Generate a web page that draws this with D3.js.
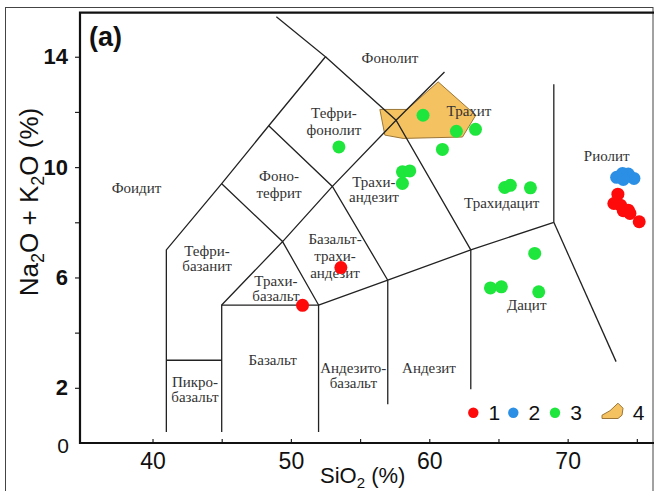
<!DOCTYPE html>
<html>
<head>
<meta charset="utf-8">
<script src="https://cdn.jsdelivr.net/npm/d3@7"></script>
<style>
  body { margin: 0; background: #fff; }
  svg { display: block; }
  .area-label { font-family: "Liberation Serif", "Times New Roman", serif; font-size: 15px; fill: #333; }
</style>
</head>
<body>
<div class="chart"></div>
<script>
// sample groups: [SiO2, Na2O + K2O]
const group1 = [[50.84, 4.99], [53.61, 6.36], [73.63, 9.02], [73.34, 8.68], [73.82, 8.62],
  [74.02, 8.42], [74.38, 8.44], [74.5, 8.32], [75.17, 8.02]];
const group2 = [[73.54, 9.63], [73.97, 9.77], [74.38, 9.75], [74.79, 9.59], [74.02, 9.55]];
const group3 = [[59.55, 11.88], [61.96, 11.3], [63.34, 11.37], [60.95, 10.64], [53.47, 10.73],
  [58.06, 9.83], [58.59, 9.86], [58.06, 9.41], [65.45, 9.26], [65.86, 9.34], [67.31, 9.25],
  [67.62, 6.87], [64.42, 5.62], [65.21, 5.66], [67.91, 5.48]];
// field 4 outline
const field4 = [[56.43, 12.09], [58.4, 12.09], [60.64, 13.09], [63.36, 11.88], [62.4, 11.09],
  [58.11, 11.04], [56.79, 11.16]];

// TAS boundaries
const boundaries = [
  [[41, 0.4], [41, 7], [45, 9.4], [48.4, 11.5], [52.5, 14], [48.95, 15.45]],
  [[45, 0.4], [45, 5], [52, 5], [52, 0.4]],
  [[41, 3], [45, 3]],
  [[45, 5], [49.4, 7.3], [52, 5]],
  [[52, 5], [57, 5.9], [63, 7], [69, 8]],
  [[57, 5.9], [57, 1.4]],
  [[63, 7], [63, 1.95]],
  [[69, 8], [69, 13]],
  [[69, 8], [73.5, 2.95]],
  [[45, 9.4], [49.4, 7.3], [53, 9.3], [57.6, 11.7], [61.1, 13.45]],
  [[48.4, 11.5], [53, 9.3], [57, 5.9]],
  [[52.5, 14], [57.6, 11.7], [63, 7]]
];

// rock names: anchor [SiO2, alkali], lines, line step px
const areaLabels = [
  { at: [38.84, 9.06], lines: ['Фоидит'], step: 0 },
  { at: [49.14, 9.5], lines: ['Фоно-', 'тефрит'], step: 17 },
  { at: [53.11, 11.77], lines: ['Тефри-', 'фонолит'], step: 17 },
  { at: [57.16, 13.77], lines: ['Фонолит'], step: 0 },
  { at: [62.87, 11.85], lines: ['Трахит'], step: 0 },
  { at: [56.0, 9.28], lines: ['Трахи-', 'андезит'], step: 15 },
  { at: [65.23, 8.51], lines: ['Трахидацит'], step: 0 },
  { at: [72.82, 10.22], lines: ['Риолит'], step: 0 },
  { at: [53.19, 7.2], lines: ['Базальт-', 'трахи-', 'андезит'], step: 17 },
  { at: [43.94, 6.78], lines: ['Тефри-', 'базанит'], step: 15.5 },
  { at: [48.92, 5.69], lines: ['Трахи-', 'базальт'], step: 15 },
  { at: [48.69, 2.82], lines: ['Базальт'], step: 0 },
  { at: [43.07, 2.03], lines: ['Пикро-', 'базальт'], step: 15.5 },
  { at: [54.51, 2.55], lines: ['Андезито-', 'базальт'], step: 15.5 },
  { at: [59.98, 2.53], lines: ['Андезит'], step: 0 },
  { at: [67.04, 4.82], lines: ['Дацит'], step: 0 }
];

const xTicks = [40, 45, 50, 55, 60, 65, 70, 75];
const yTicks = [2, 4, 6, 8, 10, 12, 14];
const legendKeys = ['1', '2', '3', '4'];

const width = 654;
const height = 491;
const colors = { g1: '#ff0a0a', g2: '#2b8fe6', g3: '#1ee63c', field: '#f5c262' };

const svg = d3.select('.chart')
  .append('svg')
    .attr('width', width)
    .attr('height', height);

const x = d3.scaleLinear().domain([34.76, 76.24]).range([80, 654]);
const y = d3.scaleLinear().domain([0, 15.6]).range([443, 12.6]);

// outer border
svg.append('rect')
  .attr('x', 5.5).attr('y', 7.5)
  .attr('width', 647.5).attr('height', 490)
  .attr('fill', 'none')
  .attr('stroke', '#444')
  .attr('stroke-width', 1);

const line = d3.line().x(d => x(d[0])).y(d => y(d[1]));

svg.append('path')
  .attr('d', line(field4) + 'Z')
  .attr('fill', colors.field)
  .attr('stroke', '#9c7636')
  .attr('stroke-width', 1);

svg.append('g')
  .selectAll('path')
  .data(boundaries)
  .join('path')
    .attr('d', line)
    .attr('fill', 'none')
    .attr('stroke', '#222')
    .attr('stroke-width', 1.3);

// axes
const xAxis = svg.append('g')
  .attr('transform', `translate(0, ${y(0)})`)
  .call(d3.axisBottom(x).tickValues(xTicks).tickSize(-4).tickPadding(10)
    .tickFormat(d => d % 10 === 0 ? d : ''));
xAxis.select('.domain').remove();
xAxis.selectAll('line').attr('stroke', '#222').attr('stroke-width', 1.2);
xAxis.selectAll('text')
  .attr('font-family', 'Liberation Sans, Arial, sans-serif')
  .attr('font-size', 23)
  .attr('fill', '#111');

const yAxis = svg.append('g')
  .attr('transform', `translate(${x.range()[0]}, 0)`)
  .call(d3.axisLeft(y).tickValues(yTicks).tickSize(5).tickPadding(7)
    .tickFormat(d => d % 4 === 2 ? d : ''));
yAxis.select('.domain').remove();
yAxis.selectAll('line').attr('stroke', '#222').attr('stroke-width', 1.2);
yAxis.selectAll('text')
  .attr('font-family', 'Liberation Sans, Arial, sans-serif')
  .attr('font-size', 22)
  .attr('font-weight', 'bold')
  .attr('fill', '#111');

svg.append('text')
  .attr('x', 63).attr('y', y(0) + 10)
  .attr('text-anchor', 'middle')
  .attr('font-family', 'Liberation Sans, Arial, sans-serif')
  .attr('font-size', 21)
  .attr('fill', '#111')
  .text('0');

// plot frame
svg.append('path')
  .attr('d', `M${width},${y.range()[1]}H${x.range()[0]}V${y(0)}H${width}`)
  .attr('fill', 'none')
  .attr('stroke', '#111')
  .attr('stroke-width', 2.2);

// rock names
const labelG = svg.append('g').attr('class', 'area-label');
areaLabels.forEach(l => {
  const t = labelG.append('text')
    .attr('x', x(l.at[0]))
    .attr('y', y(l.at[1]))
    .attr('text-anchor', 'middle');
  l.lines.forEach((s, i) => {
    t.append('tspan')
      .attr('x', x(l.at[0]))
      .attr('dy', i === 0 ? 0 : l.step)
      .text(s);
  });
});

// samples
const dots = svg.append('g');
[[group3, colors.g3], [group2, colors.g2], [group1, colors.g1]].forEach(([pts, c]) => {
  dots.append('g')
    .selectAll('circle')
    .data(pts)
    .join('circle')
      .attr('cx', d => x(d[0]))
      .attr('cy', d => y(d[1]))
      .attr('r', 6.5)
      .attr('fill', c);
});

// axis titles
const xTitle = svg.append('text')
  .attr('x', 320).attr('y', 483)
  .attr('font-family', 'Liberation Sans, Arial, sans-serif')
  .attr('font-size', 22)
  .attr('fill', '#111');
xTitle.append('tspan').text('SiO');
xTitle.append('tspan').attr('font-size', 15).attr('dy', 5).text('2');
xTitle.append('tspan').attr('dy', -5).text(' (%)');

const yTitle = svg.append('text')
  .attr('transform', 'translate(38, 202) rotate(-90)')
  .attr('text-anchor', 'middle')
  .attr('font-family', 'Liberation Sans, Arial, sans-serif')
  .attr('font-size', 26)
  .attr('fill', '#111');
yTitle.append('tspan').text('Na');
yTitle.append('tspan').attr('font-size', 18).attr('dy', 6).text('2');
yTitle.append('tspan').attr('dy', -6).text('O + K');
yTitle.append('tspan').attr('font-size', 18).attr('dy', 6).text('2');
yTitle.append('tspan').attr('dy', -6).text('O (%)');

svg.append('text')
  .attr('x', 89).attr('y', 46)
  .attr('font-family', 'Liberation Sans, Arial, sans-serif')
  .attr('font-size', 27)
  .attr('font-weight', 'bold')
  .attr('fill', '#111')
  .text('(a)');

// legend
const legendX = [473.3, 513.3, 555, 612];
const legendY = 412.7;
const legendG = svg.append('g');
const legendColors = [colors.g1, colors.g2, colors.g3];
legendKeys.forEach((k, i) => {
  if (i < 3) {
    legendG.append('circle')
      .attr('cx', legendX[i]).attr('cy', legendY)
      .attr('r', 5.2)
      .attr('fill', legendColors[i]);
  } else {
    const ox = legendX[i], oy = legendY;
    legendG.append('path')
      .attr('d', `M${ox - 10},${oy + 2.5}L${ox - 2},${oy - 2}L${ox + 6},${oy - 9.5}L${ox + 11},${oy - 4.5}L${ox + 10},${oy + 2.5}L${ox + 6},${oy + 5.8}L${ox - 10},${oy + 5.8}Z`)
      .attr('fill', colors.field)
      .attr('stroke', '#9c7636')
      .attr('stroke-width', 1);
  }
  legendG.append('text')
    .attr('x', legendX[i] + (i < 3 ? 21 : 26.5))
    .attr('y', legendY + 7.5)
    .attr('text-anchor', 'middle')
    .attr('font-family', 'Liberation Sans, Arial, sans-serif')
    .attr('font-size', 21)
    .attr('fill', '#111')
    .text(k);
});
</script>
</body>
</html>
